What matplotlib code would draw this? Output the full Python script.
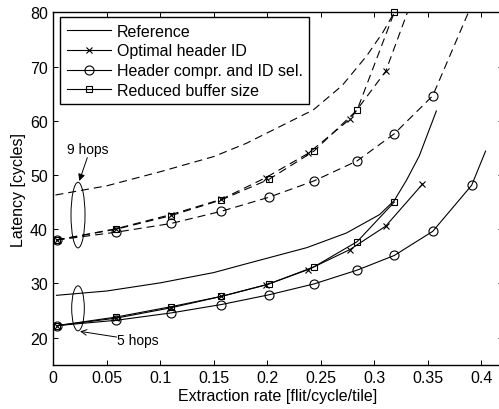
import matplotlib
matplotlib.use("Agg")
import matplotlib.pyplot as plt
from matplotlib.patches import Ellipse

plt.rcParams['font.family'] = ['Liberation Sans', 'DejaVu Sans']

# 5 hops (solid lines)
ref5_x = [0.003, 0.05, 0.1, 0.15, 0.18, 0.237, 0.274, 0.305, 0.3187, 0.33, 0.342, 0.358]
ref5_y = [27.8, 28.6, 30.1, 32.0, 33.6, 36.6, 39.3, 42.7, 45.3, 49.0, 53.5, 61.8]
opt5_x = [0.003, 0.059, 0.11, 0.157, 0.1985, 0.2383, 0.2773, 0.3106, 0.345]
opt5_y = [22.2, 23.6, 25.5, 27.6, 29.7, 32.55, 36.25, 40.55, 48.3]
cmp5_x = [0.003, 0.059, 0.11, 0.157, 0.2016, 0.2436, 0.284, 0.3187, 0.3546, 0.391, 0.404]
cmp5_y = [22.2, 23.2, 24.55, 26.1, 27.9, 29.9, 32.45, 35.15, 39.6, 48.1, 54.4]
buf5_x = [0.003, 0.059, 0.11, 0.157, 0.2016, 0.2436, 0.284, 0.3187]
buf5_y = [22.2, 23.8, 25.7, 27.6, 29.9, 33.05, 37.7, 45.0]

# 9 hops (dashed lines)
ref9_x = [0.002, 0.05, 0.1, 0.15, 0.18, 0.243, 0.27, 0.293, 0.308, 0.3187]
ref9_y = [46.3, 48.0, 50.6, 53.4, 55.8, 62.0, 66.5, 72.0, 76.3, 80.0]
opt9_x = [0.003, 0.059, 0.11, 0.157, 0.1985, 0.2383, 0.2773, 0.3106, 0.331]
opt9_y = [38.0, 40.1, 42.7, 45.5, 49.5, 54.0, 60.3, 69.1, 80.0]
cmp9_x = [0.003, 0.059, 0.11, 0.157, 0.2016, 0.2436, 0.284, 0.3187, 0.3546, 0.388]
cmp9_y = [38.0, 39.45, 41.05, 43.3, 45.9, 48.9, 52.6, 57.6, 64.6, 80.0]
buf9_x = [0.003, 0.059, 0.11, 0.157, 0.2016, 0.2436, 0.284, 0.3187]
buf9_y = [38.0, 40.0, 42.5, 45.4, 49.2, 54.4, 62.0, 80.0]

labels = ["Reference", "Optimal header ID", "Header compr. and ID sel.", "Reduced buffer size"]
markers = [None, "x", "o", "s"]
msizes = [0, 5, 6.5, 5]
xticks = [0, 0.05, 0.1, 0.15, 0.2, 0.25, 0.3, 0.35, 0.4]
yticks = [20, 30, 40, 50, 60, 70, 80]

fig = plt.figure(figsize=(4.99, 4.10), dpi=100)
ax = fig.add_axes([0.1068, 0.108, 0.9006, 0.8595])

series5 = [(ref5_x, ref5_y, None), (opt5_x, opt5_y, None),
           (cmp5_x, cmp5_y, list(range(len(cmp5_x) - 1))), (buf5_x, buf5_y, None)]
series9 = [(ref9_x, ref9_y, None), (opt9_x, opt9_y, list(range(len(opt9_x) - 1))),
           (cmp9_x, cmp9_y, list(range(len(cmp9_x) - 1))), (buf9_x, buf9_y, None)]

for ls, series in (("-", series5), ("--", series9)):
    for (x, y, every), m, ms in zip(series, markers, msizes):
        line, = ax.plot(x, y, color="k", lw=0.8, marker=m, ms=ms, mfc="none",
                        mew=0.8, markevery=every, clip_on=False if m == "s" else True)
        if ls == "--":
            line.set_dashes([7.2, 4.5])

# legend entries drawn as solid lines
handles = [plt.Line2D([], [], color="k", lw=0.8, marker=m, ms=ms, mfc="none", mew=0.8)
           for m, ms in zip(markers, msizes)]
leg = ax.legend(handles, labels, loc="upper left", bbox_to_anchor=(0.0153, 0.986),
                borderaxespad=0, fontsize=11.5, handlelength=2.8, handletextpad=0.35,
                labelspacing=0.3, borderpad=0.4, fancybox=False, framealpha=1,
                edgecolor="k")
leg.get_frame().set_linewidth(1.0)

# ellipses grouping the hop counts
ax.add_patch(Ellipse((0.0231, 42.6), 0.0131, 12.1, fill=False, ec="k", lw=0.7))
ax.add_patch(Ellipse((0.0231, 25.4), 0.0118, 8.3, fill=False, ec="k", lw=0.7))

ax.text(0.0319, 54.7, "9 hops", fontsize=10, ha="center", va="center")
ax.annotate("", xy=(0.0243, 48.9), xytext=(0.0318, 53.2),
            arrowprops=dict(arrowstyle="-|>", color="k", lw=0.7,
                            mutation_scale=10, shrinkA=0, shrinkB=0))
ax.text(0.0598, 19.5, "5 hops", fontsize=10, ha="left", va="center")
ax.annotate("", xy=(0.025, 21.15), xytext=(0.0593, 20.1),
            arrowprops=dict(arrowstyle="->", color="k", lw=0.7,
                            mutation_scale=10, shrinkA=0, shrinkB=0))

ax.set_xlim(0, 0.42)
ax.set_ylim(15, 80)
ax.set_xticks(xticks)
ax.set_xticklabels([f"{t:g}" for t in xticks])
ax.set_yticks(yticks)
ax.tick_params(direction="in", top=True, right=True, length=3.5, width=0.7,
               labelsize=11.5, pad=4)
for s in ax.spines.values():
    s.set_linewidth(1.0)

ax.set_xlabel("Extraction rate [flit/cycle/tile]", fontsize=11.5, labelpad=2)
ax.set_ylabel("Latency [cycles]", fontsize=11.5, labelpad=3)

fig.savefig("out.png", dpi=100)
